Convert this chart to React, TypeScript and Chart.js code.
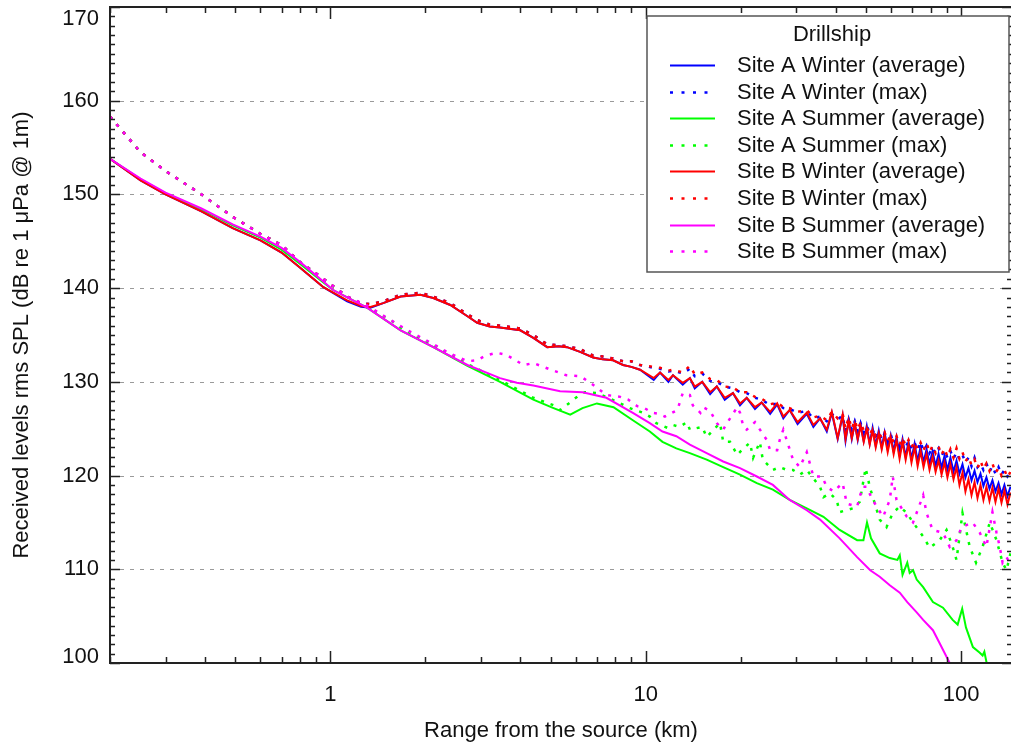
import React, { useEffect, useRef } from 'react';
import { Chart, registerables } from 'chart.js';

Chart.register(...registerables);

const FONT = "'Liberation Sans', Arial, Helvetica, sans-serif";

// ---------- text ----------
const xAxisTitle = 'Range from the source (km)';
const yAxisTitle = 'Received levels rms SPL (dB re 1 μPa @ 1m)';
const legendTitle = 'Drillship';
const seriesLabels = [
  'Site A Winter (average)',
  'Site A Winter (max)',
  'Site A Summer (average)',
  'Site A Summer (max)',
  'Site B Winter (average)',
  'Site B Winter (max)',
  'Site B Summer (average)',
  'Site B Summer (max)',
];

// ---------- axes ----------
const xTickValues = [1, 10, 100];
const yTickValues = [100, 110, 120, 130, 140, 150, 160, 170];
const yGridValues = [110, 120, 130, 140, 150, 160];

// ---------- winter series (shared range samples, km) ----------
const winterRangeKm = [
  0.2, 0.25, 0.3, 0.39, 0.49, 0.6, 0.7, 0.8, 0.95, 1.13,
  1.25, 1.34, 1.47, 1.67, 1.93, 2.12, 2.4, 2.72, 2.92, 3.2,
  3.45, 4.0, 4.4, 4.87, 5.3, 5.63, 6.19, 6.81, 7.3, 7.88,
  8.47, 9.0, 9.59,
  10.6, 11.1, 11.8, 12.2, 13.1, 13.8, 14.3, 15.1, 16.0, 16.8,
  17.8, 18.9, 19.9, 20.9, 22.2, 23.3, 24.8, 26.1, 27.3, 28.6,
  30.3, 32.4, 34.0, 35.7, 37.5, 38.9, 40.6,
  42.1, 43.0, 44.0, 45.0, 46.0, 47.0, 48.0, 49.1, 50.2, 51.3,
  52.4, 53.6, 54.8, 56.0, 57.2, 58.5, 59.8, 61.1, 62.4, 63.8,
  65.2, 66.7, 68.1, 69.6, 71.2, 72.8, 74.4, 76.0, 77.7, 79.4,
  81.2, 83.0, 84.8, 86.7, 88.6, 90.5, 92.5, 94.6, 96.7, 98.8,
  101.0, 103.2, 105.5, 107.9, 110.3, 112.7, 115.2, 117.7, 120.3, 123.0,
  125.7, 128.5, 131.4, 134.3, 137.2, 140.3, 143.4,
];

const siteAWinterAvgDb = [
  153.8, 151.5, 150.0, 148.2, 146.4, 145.1, 143.8, 142.2, 140.1, 138.6,
  138.0, 137.9, 138.4, 139.1, 139.3, 138.95, 138.2, 137.0, 136.3, 135.9,
  135.8, 135.5, 134.7, 133.7, 133.8, 133.7, 133.2, 132.6, 132.4, 132.3,
  131.8, 131.6, 131.3,
  130.2, 131.0, 130.0, 130.7, 129.7, 130.4, 129.3, 130.0, 128.7, 129.5,
  128.1, 128.8, 127.5, 128.3, 127.1, 127.8, 126.6, 127.6, 126.1, 127.0,
  125.5, 126.6, 125.2, 126.1, 124.7, 126.7, 123.9,
  126.4, 123.7, 125.9, 123.9, 125.6, 123.8, 125.5, 123.7, 125.3, 123.4,
  125.1, 123.2, 124.8, 123.0, 124.6, 122.8, 124.3, 122.6, 124.1, 122.2,
  123.9, 122.0, 123.6, 121.8, 123.4, 121.5, 123.1, 121.4, 122.8, 121.2,
  122.6, 121.0, 122.3, 120.8, 122.1, 120.6, 121.9, 120.4, 121.6, 120.2,
  121.2, 119.8, 120.8, 119.5, 120.5, 119.3, 120.2, 118.9, 119.8, 118.6,
  119.5, 118.3, 119.2, 118.0, 119.0, 117.8, 118.8,
];

const siteAWinterMaxDb = [
  158.3, 154.5, 152.5, 150.0, 147.6, 145.8, 144.6, 142.8, 141.0, 139.1,
  138.4, 138.3, 138.6, 139.3, 139.5, 139.1, 138.4, 137.2, 136.6, 136.1,
  136.0, 135.7, 135.0, 134.0, 133.9, 133.8, 133.5, 132.8, 132.7, 132.5,
  132.2, 132.2, 131.8,
  131.5, 131.4, 131.1, 131.2, 130.9, 131.4, 130.6, 130.9, 130.1, 130.0,
  129.5, 129.3, 128.9, 128.8, 128.3, 128.1, 127.5, 127.7, 127.2, 127.1,
  126.7, 126.9, 126.1, 126.3, 125.8, 126.6, 126.0,
  126.4, 124.8, 126.0, 124.9, 125.8, 124.7, 125.6, 124.6, 125.3, 124.6,
  124.9, 124.0, 124.7, 123.8, 124.5, 123.6, 124.4, 123.4, 123.9, 123.1,
  123.8, 123.0, 123.7, 122.9, 123.5, 122.7, 123.6, 122.6, 123.2, 122.4,
  123.0, 122.3, 122.9, 122.1, 122.7, 121.9, 122.6, 121.8, 122.5, 121.7,
  122.2, 121.4, 121.9, 121.0, 121.9, 120.9, 121.3, 120.6, 121.3, 120.4,
  121.0, 120.2, 120.9, 120.1, 120.6, 119.9, 120.3,
];

const siteBWinterAvgDb = [
  153.8, 151.5, 150.0, 148.2, 146.4, 145.1, 143.8, 142.2, 140.1, 138.7,
  138.1, 138.0, 138.4, 139.1, 139.3, 138.95, 138.2, 137.0, 136.3, 135.9,
  135.8, 135.5, 134.7, 133.7, 133.8, 133.7, 133.2, 132.6, 132.4, 132.3,
  131.8, 131.6, 131.3,
  130.4, 131.0, 130.2, 130.7, 129.9, 130.4, 129.5, 130.0, 128.9, 129.5,
  128.3, 128.8, 127.7, 128.3, 127.3, 127.8, 126.8, 127.7, 126.3, 127.0,
  125.7, 126.7, 125.4, 126.1, 124.9, 126.8, 124.0,
  126.5, 123.9, 125.8, 124.0, 125.5, 123.9, 125.3, 123.6, 125.0, 123.3,
  124.8, 123.0, 124.5, 122.8, 124.3, 122.5, 124.1, 122.3, 123.8, 121.8,
  123.6, 121.7, 123.3, 121.4, 123.0, 121.0, 122.6, 120.9, 122.3, 120.6,
  122.0, 120.4, 121.6, 120.1, 121.4, 119.8, 121.2, 119.6, 120.9, 119.0,
  120.3, 118.3, 119.6, 117.9, 119.3, 117.6, 119.0, 117.4, 118.8, 117.3,
  118.7, 117.2, 118.6, 117.1, 118.4, 116.9, 118.2,
];

const siteBWinterMaxDb = [
  158.3, 154.5, 152.5, 150.0, 147.6, 145.8, 144.6, 142.8, 141.0, 139.1,
  138.4, 138.3, 138.6, 139.3, 139.5, 139.1, 138.4, 137.2, 136.6, 136.1,
  136.0, 135.7, 135.0, 134.0, 133.9, 133.8, 133.5, 132.8, 132.7, 132.5,
  132.2, 132.2, 131.8,
  131.6, 131.5, 131.2, 131.3, 131.0, 131.7, 130.8, 131.0, 130.3, 130.2,
  129.5, 129.4, 128.9, 128.9, 128.4, 128.2, 127.6, 127.8, 127.3, 127.2,
  126.8, 127.0, 126.2, 126.4, 125.9, 126.8, 126.1,
  126.6, 125.0, 126.2, 125.0, 125.9, 124.9, 125.7, 124.8, 125.2, 124.3,
  125.0, 124.2, 124.6, 124.0, 124.6, 123.7, 124.3, 123.5, 124.2, 123.3,
  124.0, 123.2, 123.8, 123.0, 123.6, 122.8, 123.5, 122.7, 123.5, 122.5,
  123.2, 122.4, 123.1, 122.2, 122.9, 122.0, 122.8, 121.9, 122.9, 121.8,
  122.5, 121.5, 122.0, 121.1, 121.7, 120.8, 121.6, 120.7, 121.3, 120.5,
  121.3, 120.3, 120.8, 120.0, 120.6, 119.8, 120.4,
];

// ---------- summer series ----------
const siteASummerAvgRangeKm = [
  0.2, 0.25, 0.3, 0.39, 0.49, 0.6, 0.7, 0.8, 0.95, 1.02,
  1.31, 1.67, 2.12, 2.72, 3.45, 4.4, 5.1, 5.76, 6.3, 7.0,
  7.9, 9.1, 10.3, 11.3, 12.5, 13.8, 15.6, 17.6, 19.9, 22.5,
  25.3, 28.6, 32.4, 36.6, 41.2, 46.8, 49.0, 50.3, 51.8, 55.2,
  59.4, 62.8, 63.9, 65.2, 67.5, 68.7, 70.4, 72.3, 75.8, 81.4,
  87.6, 94.0, 97.5, 100.8, 103.6, 109.0, 114.6, 117.0, 118.5, 120.5,
  126,
];
const siteASummerAvgDb = [
  153.8, 151.6, 150.1, 148.4, 146.7, 145.4, 144.1, 142.6, 140.6, 139.8,
  137.9, 135.5, 133.7, 131.7, 130.0, 128.1, 127.2, 126.5, 127.2, 127.7,
  127.3, 125.9, 124.7, 123.6, 122.9, 122.4, 121.7, 120.9, 120.1, 119.2,
  118.5, 117.4, 116.5, 115.6, 114.2, 113.1, 113.1, 115.0, 113.3, 111.7,
  111.2, 111.0, 111.5, 109.4, 110.7, 109.6, 109.9, 108.9, 108.1, 106.5,
  105.9, 104.6, 104.1, 105.8, 103.8, 101.7, 101.1, 100.8, 101.2, 100.0,
  98.8,
];

const siteASummerMaxRangeKm = [
  0.2, 0.25, 0.3, 0.39, 0.49, 0.6, 0.7, 0.8, 0.95, 1.13,
  1.3, 1.55, 1.8, 2.12, 2.72, 3.45, 4.4, 5.1, 5.35, 5.7,
  6.0, 6.4, 7.0, 7.6, 8.3, 8.9, 9.8, 10.3, 10.8, 11.7,
  12.2, 12.8, 13.5, 13.8, 15.1, 15.6, 16.4, 17.2, 17.6, 18.5,
  19.5, 20.4, 21.4, 21.9, 23.0, 23.5, 25.3, 26.6, 28.0, 29.3,
  30.8, 32.4, 34.0, 35.7, 36.6, 38.4, 40.3, 41.2, 45.3, 47.7,
  49.8, 51.4, 55.2, 58.0, 60.7, 63.9, 67.3, 70.4, 75.8, 79.5,
  85.5, 89.9, 94.0, 96.7, 101.0, 106.5, 111.5, 117.0, 123.3, 129.5,
  135.4, 139.3, 143.4,
];
const siteASummerMaxDb = [
  158.3, 154.5, 152.5, 150.0, 147.6, 145.8, 144.6, 142.8, 141.0, 139.1,
  138.0, 136.6, 135.0, 133.9, 131.9, 130.2, 128.3, 127.5, 127.0, 127.7,
  128.3, 128.9, 128.8, 128.3, 127.7, 127.2, 126.7, 126.3, 125.6, 125.1,
  125.4, 125.2, 125.7, 124.9, 125.2, 124.1, 124.9, 125.6, 123.6, 123.6,
  122.2, 122.9, 123.5, 121.9, 123.6, 121.7, 120.6, 120.9, 120.6, 120.6,
  120.1, 120.6, 119.7, 118.8, 117.7, 118.1, 117.4, 116.1, 116.5, 117.2,
  120.8, 118.7, 115.3, 114.5, 116.0, 116.7, 116.0, 115.0, 113.5, 112.3,
  113.1, 114.2, 112.4, 111.0, 116.0, 112.4, 110.7, 112.4, 115.0, 113.1,
  110.7, 109.9, 111.7,
];

const siteBSummerAvgRangeKm = [
  0.2, 0.25, 0.3, 0.39, 0.49, 0.6, 0.7, 0.8, 0.95, 1.02,
  1.31, 1.67, 2.12, 2.72, 3.45, 3.9, 4.4, 5.35, 6.3, 7.5,
  9.1, 10.3, 11.3, 12.5, 13.8, 15.6, 17.6, 19.9, 22.5, 25.3,
  28.6, 32.4, 35.7, 41.2, 46.8, 51.5, 55.2, 59.4, 63.9, 67.5,
  72.3, 75.8, 81.4, 85.5, 92.0, 100,
];
const siteBSummerAvgDb = [
  153.8, 151.7, 150.2, 148.5, 146.8, 145.5, 144.3, 142.8, 140.7, 139.8,
  137.9, 135.5, 133.7, 131.8, 130.4, 129.9, 129.6, 129.0, 128.9, 128.3,
  126.7, 125.6, 124.7, 124.2, 123.3, 122.4, 121.5, 120.8, 119.9, 119.0,
  117.4, 116.3, 115.3, 113.3, 111.3, 109.9, 109.2, 108.3, 107.5, 106.5,
  105.4, 104.6, 103.5, 102.1, 100.0, 97.8,
];

const siteBSummerMaxRangeKm = [
  0.2, 0.25, 0.3, 0.39, 0.49, 0.6, 0.7, 0.8, 0.95, 1.13,
  1.3, 1.55, 1.8, 2.1, 2.4, 2.72, 2.92, 3.1, 3.37, 3.6,
  4.1, 4.4, 5.0, 5.6, 6.2, 6.8, 7.5, 8.3, 8.8, 9.4,
  9.9, 10.5, 11.0, 11.5, 12.6, 13.1, 13.8, 14.1, 14.9, 15.2,
  16.0, 16.8, 17.6, 18.1, 19.5, 19.9, 20.4, 20.9, 22.2, 24.2,
  24.8, 26.1, 26.6, 27.3, 29.3, 30.8, 32.4, 34.0, 36.2, 37.5,
  39.4, 42.1, 43.4, 46.8, 48.7, 50.1, 52.4, 56.6, 59.4, 60.7,
  62.4, 67.3, 70.4, 75.8, 77.7, 81.2, 87.6, 92.0, 96.7, 100.3,
  108.7, 114.6, 120.3, 125.7, 129.5, 132.6, 135.4, 139.3, 143.4,
];
const siteBSummerMaxDb = [
  158.3, 154.5, 152.5, 150.0, 147.6, 145.8, 144.6, 142.8, 141.0, 139.1,
  138.2, 136.6, 135.3, 134.1, 133.0, 132.2, 132.3, 132.8, 133.1, 132.9,
  131.8, 132.0, 131.3, 130.7, 130.6, 129.7, 128.6, 128.4, 128.1, 127.4,
  127.2, 126.7, 126.6, 126.3, 127.0, 128.8, 128.6, 127.5, 126.7, 127.3,
  126.9, 125.6, 124.9, 125.6, 127.3, 126.7, 125.2, 124.9, 125.7, 123.8,
  122.7, 122.7, 123.8, 124.9, 121.7, 120.9, 122.5, 119.9, 119.9, 118.8,
  118.3, 119.2, 117.0, 116.7, 118.8, 118.8, 117.4, 115.6, 117.4, 119.9,
  117.4, 115.6, 115.0, 117.9, 116.0, 114.2, 113.9, 112.4, 113.1, 114.5,
  115.0, 113.9, 112.4, 116.1, 113.9, 112.4, 110.7, 111.3, 110.5,
];

// ---------- styles ----------
const seriesColors = ['#0000ff', '#0000ff', '#00ff00', '#00ff00', '#ff0000', '#ff0000', '#ff00ff', '#ff00ff'];
const seriesDotted = [false, true, false, true, false, true, false, true];

const seriesX = [
  winterRangeKm, winterRangeKm, siteASummerAvgRangeKm, siteASummerMaxRangeKm,
  winterRangeKm, winterRangeKm, siteBSummerAvgRangeKm, siteBSummerMaxRangeKm,
];
const seriesY = [
  siteAWinterAvgDb, siteAWinterMaxDb, siteASummerAvgDb, siteASummerMaxDb,
  siteBWinterAvgDb, siteBWinterMaxDb, siteBSummerAvgDb, siteBSummerMaxDb,
];

const DOT_DASH = [3, 7];

const framePlugin = {
  id: 'frameAndLegend',
  beforeDatasetsDraw(chart: any) {
    const { ctx, chartArea: a, scales } = chart;
    const y = scales.y;
    ctx.save();
    ctx.strokeStyle = '#9a9a9a';
    ctx.lineWidth = 1;
    ctx.setLineDash([4, 6]);
    for (const v of yGridValues) {
      const py = Math.round(y.getPixelForValue(v)) + 0.5;
      ctx.beginPath();
      ctx.moveTo(a.left, py);
      ctx.lineTo(a.right, py);
      ctx.stroke();
    }
    ctx.restore();
  },
  afterDatasetsDraw(chart: any) {
    const { ctx, chartArea: a, scales } = chart;
    const x = scales.x;
    const y = scales.y;
    ctx.save();
    ctx.strokeStyle = '#222';
    ctx.lineWidth = 1.5;
    ctx.setLineDash([]);
    // ticks x
    const xmin = x.min, xmax = x.max;
    for (let d = 0.1; d < 1000; d *= 10) {
      for (let m = 1; m <= 9; m++) {
        const v = Math.round(m * d * 1000) / 1000;
        if (v < xmin || v > xmax) continue;
        const px = Math.round(x.getPixelForValue(v)) + 0.5;
        const len = m === 1 ? 12 : 6;
        ctx.beginPath();
        ctx.moveTo(px, a.bottom);
        ctx.lineTo(px, a.bottom - len);
        ctx.moveTo(px, a.top);
        ctx.lineTo(px, a.top + len);
        ctx.stroke();
      }
    }
    // ticks y
    for (let v = 100; v <= 170; v++) {
      const py = Math.round(y.getPixelForValue(v)) + 0.5;
      const len = v % 10 === 0 ? 10 : 5;
      ctx.beginPath();
      ctx.moveTo(a.left, py);
      ctx.lineTo(a.left + len, py);
      ctx.moveTo(a.right, py);
      ctx.lineTo(a.right - len, py);
      ctx.stroke();
    }
    ctx.lineWidth = 2;
    ctx.strokeRect(a.left, a.top, a.right - a.left, a.bottom - a.top);

    // legend
    const lw = 362, lh = 256;
    const lx = a.right - 365, ly = a.top + 9;
    ctx.fillStyle = '#ffffff';
    ctx.fillRect(lx, ly, lw, lh);
    ctx.strokeStyle = '#555';
    ctx.lineWidth = 1.5;
    ctx.strokeRect(lx, ly, lw, lh);
    ctx.fillStyle = '#111';
    ctx.font = `22px ${FONT}`;
    ctx.textBaseline = 'middle';
    ctx.textAlign = 'center';
    ctx.fillText(legendTitle, lx + lw / 2 + 4, ly + 19);
    ctx.textAlign = 'left';
    seriesLabels.forEach((label, i) => {
      const yy = ly + 49 + i * 26.6;
      ctx.strokeStyle = seriesColors[i];
      ctx.lineWidth = seriesDotted[i] ? 2.5 : 2;
      ctx.setLineDash(seriesDotted[i] ? [3, 8.5] : []);
      ctx.beginPath();
      ctx.moveTo(lx + 23, Math.round(yy) + 0.5);
      ctx.lineTo(lx + 68, Math.round(yy) + 0.5);
      ctx.stroke();
      ctx.setLineDash([]);
      ctx.fillStyle = '#111';
      ctx.fillText(label, lx + 90, yy + 1);
    });
    ctx.restore();
  },
};

export default function App() {
  const ref = useRef<HTMLCanvasElement>(null);
  useEffect(() => {
    if (!ref.current) return;
    const datasets = seriesLabels.map((label, i) => ({
      label,
      data: seriesX[i].map((xv, j) => ({ x: xv, y: seriesY[i][j] })),
      borderColor: seriesColors[i],
      backgroundColor: seriesColors[i],
      borderWidth: seriesDotted[i] ? 2.5 : 2,
      borderDash: seriesDotted[i] ? DOT_DASH : [],
      pointRadius: 0,
      pointHitRadius: 0,
      tension: 0,
      fill: false,
      order: 7 - i,
    }));
    const chart = new Chart(ref.current, {
      type: 'line',
      data: { datasets },
      options: {
        responsive: false,
        animation: false,
        events: [],
        layout: { padding: { top: 7, right: 4, left: 0, bottom: 0 }, autoPadding: false },
        plugins: { legend: { display: false }, tooltip: { enabled: false }, title: { display: false } },
        scales: {
          x: {
            type: 'logarithmic',
            position: 'bottom',
            min: 0.2,
            max: 145,
            bounds: 'data',
            afterBuildTicks: (s: any) => { s.ticks = xTickValues.map((v) => ({ value: v })); },
            afterFit: (s: any) => { s.height = 84; s.paddingLeft = 0; s.paddingRight = 0; },
            grid: { display: false, drawTicks: false },
            border: { display: false },
            ticks: {
              autoSkip: false,
              maxRotation: 0,
              padding: 19,
              color: '#111',
              font: { family: FONT, size: 22 },
              callback: (v: any) => String(v),
            },
            title: {
              display: true,
              text: xAxisTitle,
              color: '#111',
              font: { family: FONT, size: 22 },
              padding: { top: 3, bottom: 3 },
            },
          },
          y: {
            type: 'linear',
            min: 100,
            max: 170,
            bounds: 'data',
            afterBuildTicks: (s: any) => { s.ticks = yTickValues.map((v) => ({ value: v })); },
            afterFit: (s: any) => { s.width = 110; s.paddingTop = 0; s.paddingBottom = 0; },
            grid: { display: false, drawTicks: false },
            border: { display: false },
            ticks: {
              padding: 11,
              color: '#111',
              font: (c: any) => ({
                family: FONT,
                size: 22,
                lineHeight: c.tick && c.tick.value === 170 ? 1.1 : c.tick && c.tick.value === 100 ? 0.55 : 1.2,
              }),
              callback: (v: any) => (v === 170 ? ['', '170'] : v === 100 ? ['100', ''] : String(v)),
            },
            title: {
              display: true,
              text: yAxisTitle,
              color: '#111',
              font: { family: FONT, size: 22 },
              padding: { top: 9, bottom: 0 },
            },
          },
        },
      } as any,
      plugins: [framePlugin],
    });
    return () => chart.destroy();
  }, []);
  return (
    <div style={{ position: 'absolute', left: 0, top: 0, width: 1011, height: 747, overflow: 'hidden', background: '#fff' }}>
      <canvas ref={ref} width={1016} height={747} style={{ display: 'block' }} />
    </div>
  );
}
